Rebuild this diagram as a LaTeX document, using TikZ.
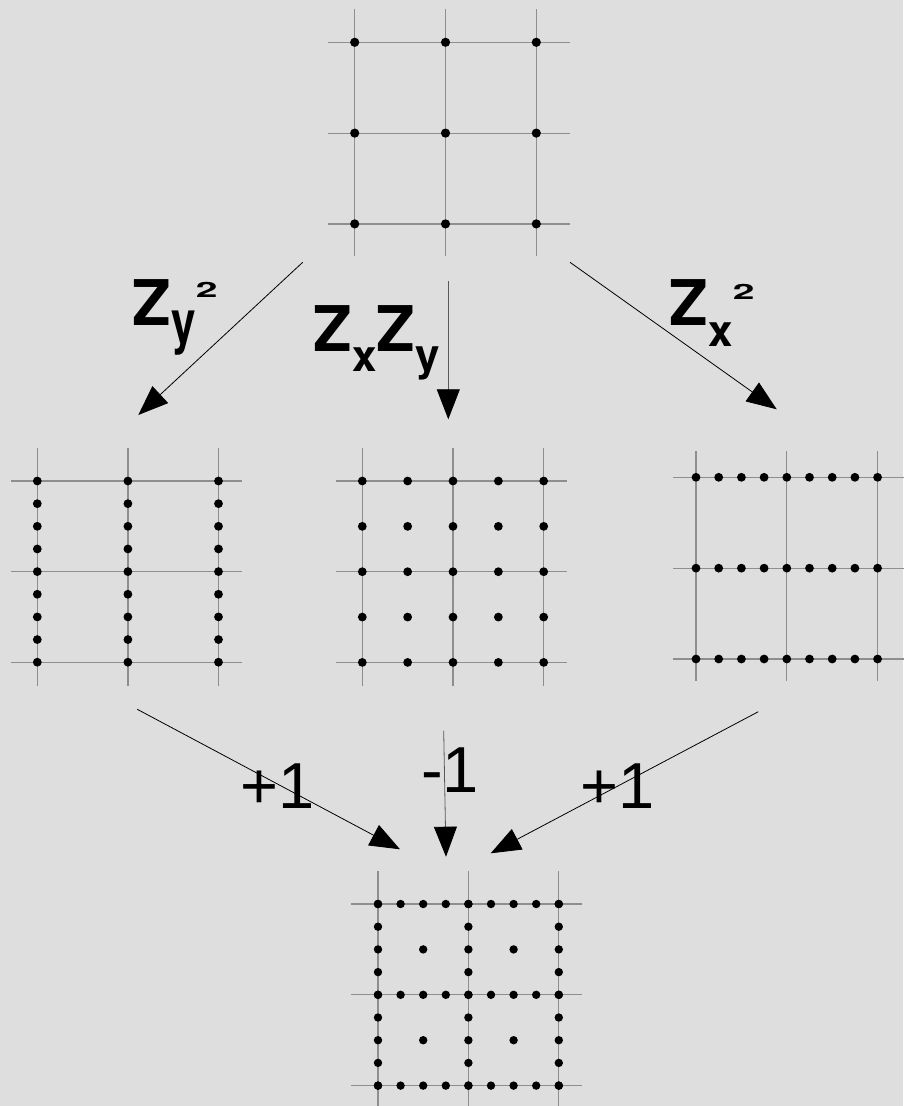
\documentclass[tikz,border=0pt]{standalone}
\usepackage{fontspec}
\setmainfont{Liberation Sans}
\newfontfamily\labelfont{texgyreheros}[Extension=.otf, UprightFont=*-bold]
\usepackage{graphicx}
\usetikzlibrary{arrows.meta}
\definecolor{bgcol}{HTML}{DEDEDE}
\definecolor{gridcol}{HTML}{8E8E8E}
\tikzset{
  gridline/.style={draw=gridcol, line width=1.2pt},
  arr/.style={-{Triangle[length=30pt,width=23pt,color=black]}, line width=0.8pt},
  lbl/.style={inner sep=0pt, anchor=base west},
}
\begin{document}
\begin{tikzpicture}[x=1pt, y=-1pt]
    \useasboundingbox (0,0) rectangle (903,1106);
    \fill[bgcol] (0,0) rectangle (903,1106);

    % top lattice
    \begin{scope}[shift={(354.7,42.3)}]
        \foreach \i in {0,1,2} {
            \draw[gridline] (-27,\i*90.8) -- (215,\i*90.8);
            \draw[gridline] (\i*90.8,-33) -- (\i*90.8,214);
        }
        \foreach \i in {0,1,2} \foreach \j in {0,1,2}
            \fill (\i*90.8,\j*90.8) circle (4.6pt);
    \end{scope}

    % Z_y^2: dots doubled along y
    \begin{scope}[shift={(37.3,481)}]
        \foreach \i in {0,1,2} {
            \draw[gridline] (-26,\i*90.6) -- (205,\i*90.6);
            \draw[gridline] (\i*90.6,-33) -- (\i*90.6,205);
        }
        \foreach \i in {0,1,2} \foreach \j in {0,...,8}
            \fill (\i*90.6,\j*22.65) circle (4.4pt);
    \end{scope}

    % Z_x Z_y: centred lattice
    \begin{scope}[shift={(362.3,481)}]
        \foreach \i in {0,1,2} {
            \draw[gridline] (-26,\i*90.7) -- (205,\i*90.7);
            \draw[gridline] (\i*90.7,-33) -- (\i*90.7,205);
        }
        \foreach \i in {0,...,4} \foreach \j in {0,...,4}
            \fill (\i*45.35,\j*45.35) circle (4.4pt);
    \end{scope}

    % Z_x^2: dots doubled along x
    \begin{scope}[shift={(696,477.3)}]
        \foreach \i in {0,1,2} {
            \draw[gridline] (-23,\i*90.85) -- (215,\i*90.85);
            \draw[gridline] (\i*90.85,-26) -- (\i*90.85,204);
        }
        \foreach \i in {0,...,8} \foreach \j in {0,1,2}
            \fill (\i*22.7,\j*90.85) circle (4.4pt);
    \end{scope}

    % sum
    \begin{scope}[shift={(378,904)}]
        \foreach \i in {0,1,2} {
            \draw[gridline] (-27,\i*90.8) -- (204,\i*90.8);
            \draw[gridline] (\i*90.4,-33) -- (\i*90.4,215);
        }
        \foreach \k in {0,1,2} \foreach \j in {0,...,8} {
            \fill (\k*90.4,\j*22.7) circle (4.2pt);
            \fill (\j*22.6,\k*90.8) circle (4.2pt);
        }
        \foreach \i in {2,6} \foreach \j in {2,6}
            \fill (\i*22.6,\j*22.7) circle (4.2pt);
    \end{scope}

    % labels
    \node[lbl] (zyy) at (132.7,325.7) {\labelfont\fontsize{63}{63}\selectfont
        Z\raisebox{-16.3pt}{\fontsize{44}{44}\selectfont\scalebox{1}[1.33]{y}}%
        \raisebox{28pt}{\fontsize{39}{39}\selectfont\scalebox{1}[0.54]{2}}};
    \node[lbl] (zxzy) at (313.7,351.7) {\labelfont\fontsize{63}{63}\selectfont
        Z\raisebox{-19.3pt}{\fontsize{44}{44}\selectfont x}%
        Z\raisebox{-19.1pt}{\fontsize{44}{44}\selectfont y}};
    \node[lbl] (zxx) at (669.7,325.7) {\labelfont\fontsize{63}{63}\selectfont
        Z\raisebox{-20.3pt}{\fontsize{44}{44}\selectfont x}%
        \raisebox{26.4pt}{\fontsize{39}{39}\selectfont\scalebox{1}[0.54]{2}}};
    \node[lbl] (plusl) at (240.7,808.3) {\fontsize{65}{65}\selectfont +1};
    \node[lbl] (minus) at (421.1,792.7) {\fontsize{65}{65}\selectfont -1};
    \node[lbl] (plusr) at (580.7,808.3) {\fontsize{65}{65}\selectfont +1};

    % arrow ends
    \coordinate (topsw) at (302.7,262.3);
    \coordinate (tops) at (448.3,281);
    \coordinate (topse) at (570,262.3);
    \coordinate (leftn) at (138.3,415);
    \coordinate (midn) at (448.3,419.3);
    \coordinate (rightn) at (776.7,409.3);
    \coordinate (lefts) at (137.3,709.3);
    \coordinate (mids) at (443.7,730.7);
    \coordinate (rights) at (758.3,711.7);
    \coordinate (botnw) at (400,849.3);
    \coordinate (botn) at (446,856.7);
    \coordinate (botne) at (490.7,853.3);

    \draw[arr] (topsw) -- (leftn);
    \draw[arr, black!65] (tops) -- (midn);
    \draw[arr] (topse) -- (rightn);
    \draw[arr] (lefts) -- (botnw);
    \draw[arr, black!65] (mids) -- (botn);
    \draw[arr] (rights) -- (botne);
\end{tikzpicture}
\end{document}
